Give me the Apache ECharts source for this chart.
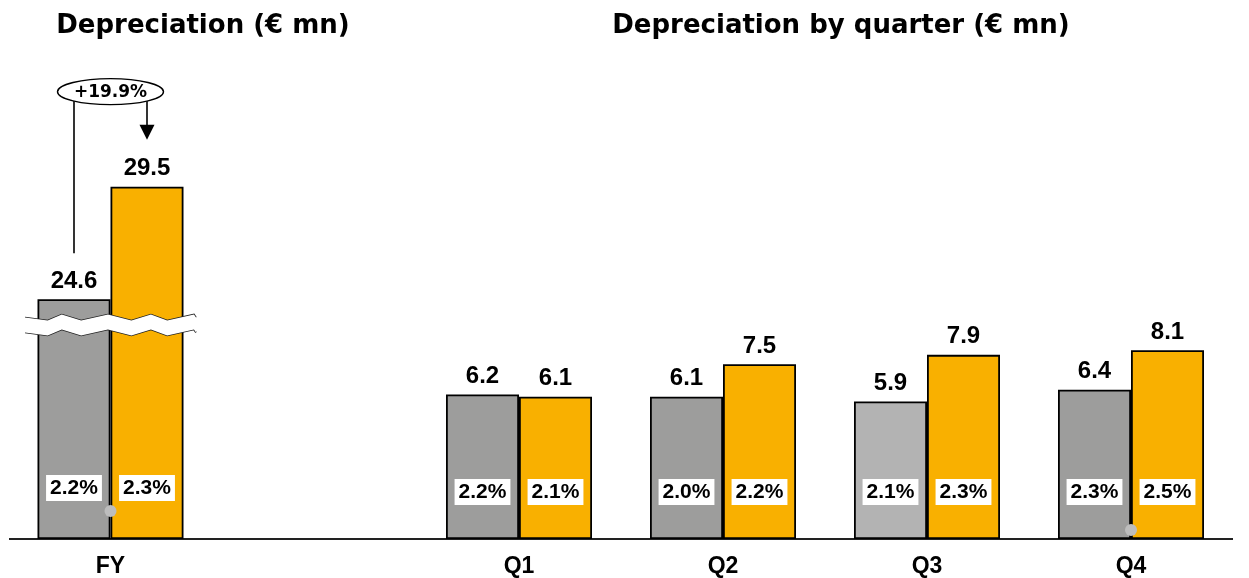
<!DOCTYPE html>
<html>
<head>
<meta charset="utf-8">
<script src="https://cdn.jsdelivr.net/npm/echarts@6/dist/echarts.min.js"></script>
<style>
  html, body { margin: 0; padding: 0; background: #ffffff; }
  #chart { width: 1249px; height: 578px; }
</style>
</head>
<body>
<div id="chart"></div>
<script>
// Full-year depreciation (€ mn), previous vs. current year
const fyCategories = ['FY'];
const fyPrev = [24.6];
const fyCurr = [29.5];
const fyPrevPct = [2.2];
const fyCurrPct = [2.3];
const fyGrowthPct = 19.9;

// Quarterly depreciation (€ mn)
const quarterCategories = ['Q1', 'Q2', 'Q3', 'Q4'];
const quarterPrev = [6.2, 6.1, 5.9, 6.4];
const quarterCurr = [6.1, 7.5, 7.9, 8.1];
const quarterPrevPct = [2.2, 2.0, 2.1, 2.3];
const quarterCurrPct = [2.1, 2.2, 2.3, 2.5];

const titleTexts = ['Depreciation (€ mn)', 'Depreciation by quarter (€ mn)'];

const GREY = '#9d9d9c';
const GREY_LIGHT = '#b3b3b3';
const ORANGE = '#f9b000';
const BAR_W = 73;
const ARIAL = '"Liberation Sans", Arial, sans-serif';
const WIDE = '"DejaVu Sans", sans-serif';

const chart = echarts.init(document.getElementById('chart'), null, { renderer: 'canvas' });

const barBorder = { borderColor: '#000', borderWidth: 1.8 };

const valueLabel = {
  show: true,
  position: 'top',
  distance: 6,
  color: '#000',
  fontFamily: ARIAL,
  fontWeight: 'bold',
  fontSize: 24,
  formatter: p => p.value.toFixed(1)
};

// Share-of-revenue boxes drawn inside the bars
function pctRenderer(lift) {
  return function (params, api) {
    const base = api.coord([api.value(0), 0]);
    const side = api.value(2);
    return {
      type: 'text',
      x: base[0] + side * BAR_W / 2,
      y: base[1] - lift,
      style: {
        text: api.value(1).toFixed(1) + '%',
        fill: '#000',
        font: 'bold 21px ' + ARIAL,
        backgroundColor: '#fff',
        padding: [3, 4, 2, 4],
        align: 'center',
        verticalAlign: 'middle'
      }
    };
  };
}

function pctData(prev, curr) {
  return prev.map((v, i) => [i, v, -1]).concat(curr.map((v, i) => [i, v, 1]));
}

const hiddenY = {
  type: 'value',
  min: 0,
  axisLine: { show: false },
  axisTick: { show: false },
  axisLabel: { show: false },
  splitLine: { show: false }
};

const catAxis = {
  type: 'category',
  axisLine: { show: false },
  axisTick: { show: false },
  axisLabel: {
    color: '#000',
    fontFamily: ARIAL,
    fontWeight: 'bold',
    fontSize: 23,
    margin: 16
  }
};

chart.setOption({
  animation: false,
  backgroundColor: '#ffffff',
  title: [
    {
      text: titleTexts[0], left: 203, top: 13, padding: 0, textAlign: 'center',
      textStyle: { fontFamily: WIDE, fontWeight: 'bold', fontSize: 26, color: '#000' }
    },
    {
      text: titleTexts[1], left: 841, top: 13, padding: 0, textAlign: 'center',
      textStyle: { fontFamily: WIDE, fontWeight: 'bold', fontSize: 26, color: '#000' }
    }
  ],
  grid: [
    { left: 25, width: 171, top: 166, height: 375 },
    { left: 417, width: 816, top: 166, height: 375 }
  ],
  xAxis: [
    Object.assign({}, catAxis, { gridIndex: 0, data: fyCategories }),
    Object.assign({}, catAxis, { gridIndex: 1, data: quarterCategories })
  ],
  yAxis: [
    Object.assign({}, hiddenY, {
      gridIndex: 0,
      max: 30.4,
      breaks: [{ start: 9, end: 23.8, gap: '4%' }],
      breakArea: {
        show: true,
        itemStyle: { color: '#fff', borderColor: '#222', borderWidth: 1.6, borderType: 'solid', opacity: 1 },
        zigzagAmplitude: 3,
        zigzagMinSpan: 14,
        zigzagMaxSpan: 30,
        zigzagZ: 100,
        expandOnClick: false
      }
    }),
    Object.assign({}, hiddenY, { gridIndex: 1, max: 16 })
  ],
  series: [
    {
      type: 'bar', xAxisIndex: 0, yAxisIndex: 0, data: fyPrev,
      barWidth: BAR_W, barGap: '0%',
      itemStyle: Object.assign({ color: GREY }, barBorder),
      label: valueLabel
    },
    {
      type: 'bar', xAxisIndex: 0, yAxisIndex: 0, data: fyCurr,
      barWidth: BAR_W, barGap: '0%',
      itemStyle: Object.assign({ color: ORANGE }, barBorder),
      label: valueLabel
    },
    {
      type: 'bar', xAxisIndex: 1, yAxisIndex: 1, data: quarterPrev,
      barWidth: BAR_W, barGap: '0%',
      itemStyle: Object.assign({
        color: p => (quarterCategories[p.dataIndex] === 'Q3' ? GREY_LIGHT : GREY)
      }, barBorder),
      label: valueLabel
    },
    {
      type: 'bar', xAxisIndex: 1, yAxisIndex: 1, data: quarterCurr,
      barWidth: BAR_W, barGap: '0%',
      itemStyle: Object.assign({ color: ORANGE }, barBorder),
      label: valueLabel
    },
    {
      type: 'custom', xAxisIndex: 0, yAxisIndex: 0, z: 10,
      encode: { x: 0, y: 1 },
      data: pctData(fyPrevPct, fyCurrPct),
      renderItem: pctRenderer(51)
    },
    {
      type: 'custom', xAxisIndex: 1, yAxisIndex: 1, z: 10,
      encode: { x: 0, y: 1 },
      data: pctData(quarterPrevPct, quarterCurrPct),
      renderItem: pctRenderer(47)
    }
  ]
});

// Baseline, growth callout and small markers, placed from the axis scales
const fyCenter = chart.convertToPixel({ gridIndex: 0 }, [0, 0]);
const q4Center = chart.convertToPixel({ gridIndex: 1 }, [3, 0]);
const prevTopY = chart.convertToPixel({ gridIndex: 0 }, [0, fyPrev[0]])[1];
const currTopY = chart.convertToPixel({ gridIndex: 0 }, [0, fyCurr[0]])[1];
const baseY = fyCenter[1];
const xPrev = fyCenter[0] - BAR_W / 2;
const xCurr = fyCenter[0] + BAR_W / 2;
const ell = { cx: fyCenter[0], cy: currTopY - 95, rx: 53, ry: 13 };
const ellY = dx => ell.cy + ell.ry * Math.sqrt(1 - Math.pow(dx / ell.rx, 2));
const tipY = currTopY - 47;

chart.setOption({
  graphic: [
    {
      type: 'line', z: 0,
      shape: { x1: 9, y1: baseY, x2: 1233, y2: baseY },
      style: { stroke: '#222', lineWidth: 2 }
    },
    {
      type: 'line', z: 50,
      shape: { x1: xPrev, y1: ellY(xPrev - ell.cx), x2: xPrev, y2: prevTopY - 46 },
      style: { stroke: '#000', lineWidth: 1.6 }
    },
    {
      type: 'line', z: 50,
      shape: { x1: xCurr, y1: ellY(xCurr - ell.cx), x2: xCurr, y2: tipY - 14 },
      style: { stroke: '#000', lineWidth: 1.6 }
    },
    {
      type: 'polygon', z: 50,
      shape: { points: [[xCurr - 7.5, tipY - 15], [xCurr + 7.5, tipY - 15], [xCurr, tipY]] },
      style: { fill: '#000' }
    },
    {
      type: 'ellipse', z: 50,
      shape: { cx: ell.cx, cy: ell.cy, rx: ell.rx, ry: ell.ry },
      style: { fill: '#fff', stroke: '#000', lineWidth: 1.4 }
    },
    {
      type: 'text', z: 51,
      x: ell.cx, y: ell.cy + 1,
      style: {
        text: '+' + fyGrowthPct.toFixed(1) + '%',
        font: 'bold 17px ' + WIDE,
        fill: '#000',
        align: 'center',
        verticalAlign: 'middle'
      }
    },
    {
      type: 'circle', z: 60,
      shape: { cx: fyCenter[0], cy: baseY - 28, r: 6 },
      style: { fill: '#bdbdbd' }
    },
    {
      type: 'circle', z: 60,
      shape: { cx: q4Center[0], cy: baseY - 9, r: 6 },
      style: { fill: '#bdbdbd' }
    }
  ]
});
</script>
</body>
</html>
